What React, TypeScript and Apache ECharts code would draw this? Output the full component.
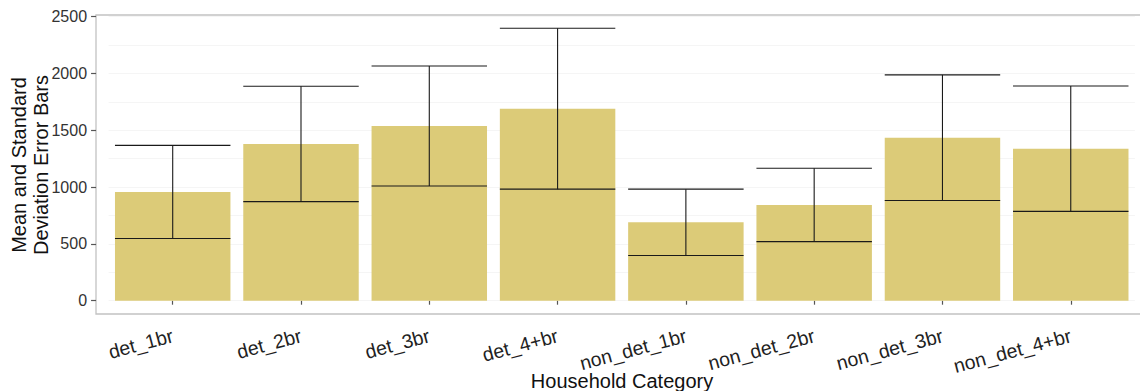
import React, { useEffect, useRef } from "react";
import * as echarts from "echarts";

const categories = ["det_1br", "det_2br", "det_3br", "det_4+br", "non_det_1br", "non_det_2br", "non_det_3br", "non_det_4+br"];
const means = [957, 1380, 1538, 1690, 690, 843, 1435, 1338];
const sds = [410, 508, 528, 708, 292, 323, 553, 552];
const yTicks = [0, 500, 1000, 1500, 2000, 2500];
const yTitle = "Mean and Standard\nDeviation Error Bars";
const xTitle = "Household Category";

const FONT = "'Liberation Sans', Arial, Helvetica, sans-serif";

export default function App() {
  const ref = useRef<HTMLDivElement>(null);
  useEffect(() => {
    if (!ref.current) return;
    const chart = echarts.init(ref.current, undefined, { renderer: "svg" });
    const errData = categories.map((c, i) => [i, means[i] - sds[i], means[i] + sds[i]]);
    chart.setOption({
      animation: false,
      backgroundColor: "#ffffff",
      textStyle: { fontFamily: FONT },
      grid: { left: 108.56, right: 5.1, top: 16.7, bottom: 90.3, containLabel: false },
      xAxis: {
        type: "category",
        data: categories,
        offset: 13.3,
        axisLine: { show: false },
        axisTick: { show: true, alignWithLabel: true, length: 4, lineStyle: { color: "#555", width: 1.2 } },
        axisLabel: { rotate: 15, fontSize: 19.5, color: "#1f1f1f", margin: 21, fontFamily: FONT, interval: 0 },
        splitLine: { show: false },
      },
      yAxis: {
        type: "value",
        min: yTicks[0],
        max: yTicks[yTicks.length - 1],
        interval: 500,
        offset: 12.5,
        axisLine: { show: false },
        axisTick: { show: true, length: 5, lineStyle: { color: "#555", width: 1.2 } },
        axisLabel: { fontSize: 16, color: "#333", margin: 9, fontFamily: FONT, formatter: (v: number) => String(v) },
        splitLine: { show: true, lineStyle: { color: "#f5f5f5", width: 1 } },
        minorTick: { show: false, splitNumber: 2 },
        minorSplitLine: { show: true, lineStyle: { color: "#f5f5f5", width: 1 } },
      },
      graphic: [
        {
          type: "rect",
          shape: { x: 96, y: 15, width: 1060, height: 299 },
          style: { fill: "none", stroke: "#c2c2c2", lineWidth: 1.3 },
          silent: true,
          z: 0,
        },
        {
          type: "text",
          x: 30,
          y: 165,
          rotation: Math.PI / 2,
          style: {
            text: yTitle,
            font: `20px ${FONT}`,
            fill: "#111",
            align: "center",
            verticalAlign: "middle",
            lineHeight: 21.5,
          },
          silent: true,
        },
        {
          type: "text",
          x: 622,
          y: 381,
          style: {
            text: xTitle,
            font: `20px ${FONT}`,
            fill: "#111",
            align: "center",
            verticalAlign: "middle",
          },
          silent: true,
        },
      ],
      series: [
        {
          type: "bar",
          data: means,
          barWidth: "90%",
          itemStyle: { color: "#DCCB78" },
          z: 2,
        },
        {
          type: "custom",
          data: errData,
          z: 3,
          renderItem: (params: any, api: any) => {
            const idx = api.value(0);
            const lo = api.coord([idx, api.value(1)]);
            const hi = api.coord([idx, api.value(2)]);
            const half = api.size([1, 0])[0] * 0.45;
            const style = { stroke: "#1a1a1a", lineWidth: 1.1 };
            return {
              type: "group",
              children: [
                { type: "line", shape: { x1: lo[0] - half, y1: lo[1], x2: lo[0] + half, y2: lo[1] }, style },
                { type: "line", shape: { x1: hi[0] - half, y1: hi[1], x2: hi[0] + half, y2: hi[1] }, style },
                { type: "line", shape: { x1: lo[0], y1: lo[1], x2: hi[0], y2: hi[1] }, style },
              ],
            };
          },
        },
      ],
    });
    return () => chart.dispose();
  }, []);
  return <div ref={ref} style={{ position: "absolute", left: 0, top: 0, width: 1140, height: 391 }} />;
}
